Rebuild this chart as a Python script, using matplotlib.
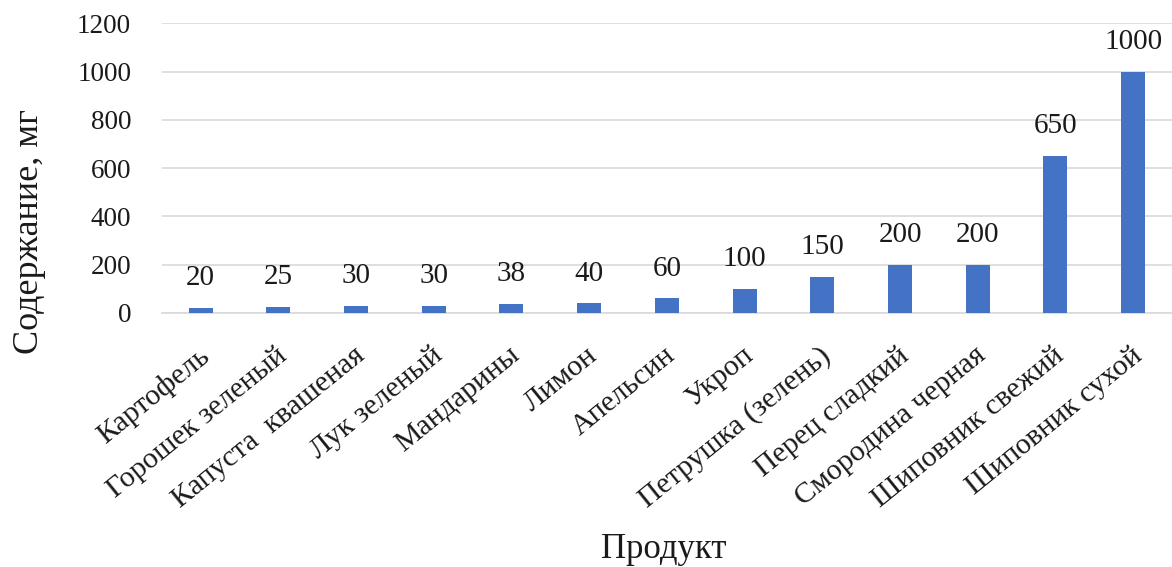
import numpy as np
import matplotlib.pyplot as plt
from matplotlib.transforms import ScaledTranslation

plt.rcParams['font.family'] = ['Liberation Serif', 'DejaVu Serif']

# содержание витамина C, мг
products = ['Картофель', 'Горошек зеленый', 'Капуста  квашеная', 'Лук зеленый',
            'Мандарины', 'Лимон', 'Апельсин', 'Укроп', 'Петрушка (зелень)',
            'Перец сладкий', 'Смородина черная', 'Шиповник свежий',
            'Шиповник сухой']
values = [20, 25, 30, 30, 38, 40, 60, 100, 150, 200, 200, 650, 1000]

text_color = '#1a1a1a'

fig = plt.figure(figsize=(11.72, 5.67), dpi=100)
ax = fig.add_axes([0.138, 0.448, 0.862, 0.511])

x = np.arange(len(products))
ax.bar(x, values, width=0.31, color='#4472C4', zorder=3)

# подписи значений над столбцами
for xi, v in zip(x, values):
    ax.annotate(str(v), (xi, v), xytext=(0, 12), textcoords='offset points',
                ha='center', va='bottom', fontsize=21, color=text_color)

ax.set_ylim(0, 1200)
ax.set_yticks(np.arange(0, 1201, 200))
ax.set_xlim(-0.5, len(products) - 0.5)
ax.yaxis.grid(True, color='#d9d9d9', linewidth=1.2, zorder=0)
ax.set_axisbelow(True)
for s in ['top', 'right', 'left']:
    ax.spines[s].set_visible(False)
ax.spines['bottom'].set_color('#d9d9d9')
ax.spines['bottom'].set_linewidth(1.2)
ax.tick_params(axis='both', length=0)
ax.tick_params(axis='y', labelsize=19.5, pad=22, labelcolor=text_color)

ax.set_xticks(x)
ax.set_xticklabels(products, rotation=39, ha='right', va='top',
                   rotation_mode='anchor', fontsize=21.5, color=text_color)
ax.tick_params(axis='x', pad=21)
shift = ScaledTranslation(-3 / 100, 0, fig.dpi_scale_trans)
for lab in ax.get_xticklabels():
    lab.set_transform(lab.get_transform() + shift)

fig.text(30 / 1172, 1 - 232 / 567, 'Содержание, мг', rotation=90,
         ha='center', va='center', fontsize=26, color=text_color)
fig.text(664 / 1172, 1 - 549 / 567, 'Продукт', ha='center', va='center',
         fontsize=25, color=text_color)

fig.savefig('out.png', dpi=100, facecolor='white')
